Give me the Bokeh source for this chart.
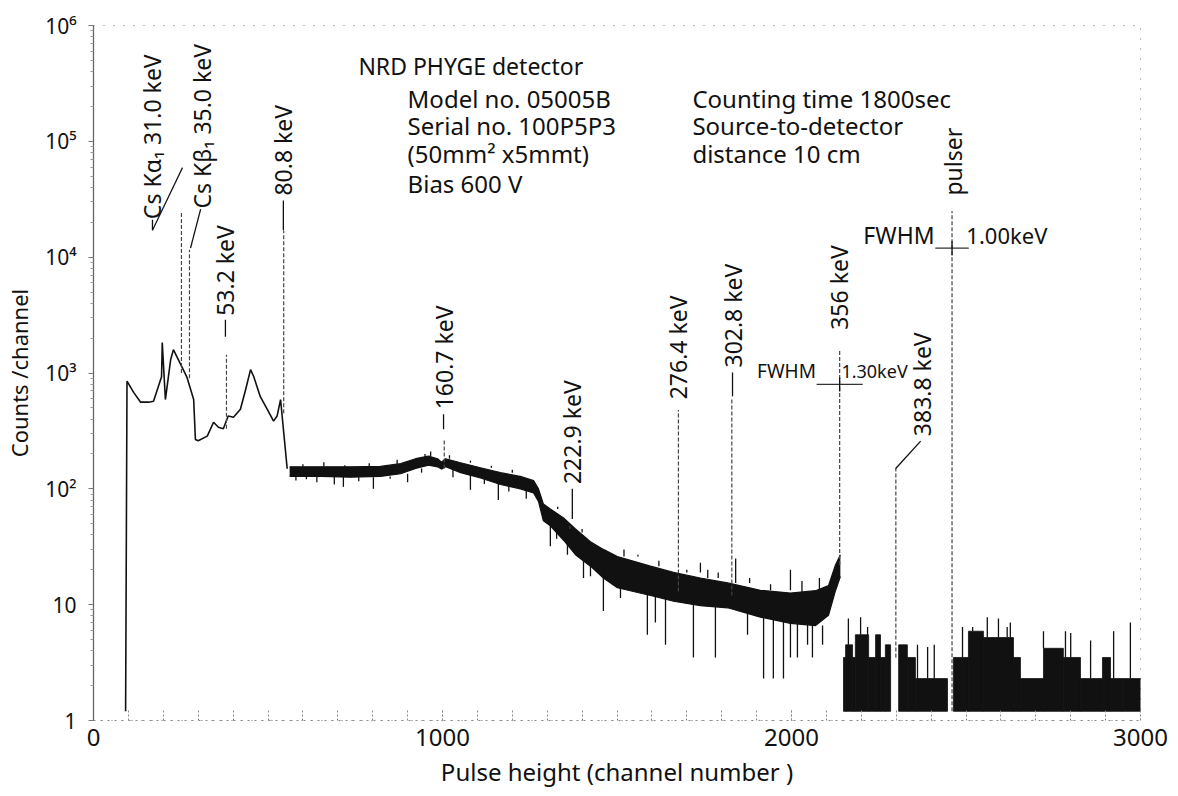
import math
from bokeh.plotting import figure
from bokeh.models import FixedTicker
from bokeh.core.properties import value
from bokeh.embed import file_html
from bokeh.resources import INLINE

FONT = "Noto Sans"
INK = "#111111"

# ---------------- data ----------------
# low-energy part of the spectrum (channel, counts/channel)
lowE_ch = [92, 96, 115, 135, 158, 172, 183, 195, 197, 206, 221, 229, 268, 287, 292, 300,
           326, 344, 358, 372, 386, 401, 421, 436, 450, 459, 478, 498, 516, 526, 536, 555]
lowE_cnt = [1.2, 850, 680, 560, 560, 570, 720, 930, 1830, 590, 1300, 1590, 915, 590, 267, 260,
            285, 376, 340, 330, 425, 415, 486, 721, 1070, 933, 625, 486, 384, 425, 590, 149]

# noisy continuum 560-2140: upper / lower edge of the band
band_ch = [562, 650, 736, 822, 880, 923, 960, 986, 997, 1009, 1052, 1109, 1166, 1223, 1261,
           1275, 1289, 1309, 1347, 1381, 1424, 1461, 1501, 1596, 1662, 1739, 1817, 1911,
           1997, 2069, 2106, 2126, 2140]
band_hi = [155, 155, 155, 156, 165, 182, 192, 182, 170, 182, 168, 152, 138, 128, 118,
           100, 74, 67, 56, 45, 35, 30, 26, 21.5, 19, 17, 15.4, 13.3,
           12.6, 13.2, 14.6, 22, 27]
band_lo = [128, 128, 126, 128, 135, 150, 160, 155, 148, 155, 138, 124, 109, 100, 92,
           78, 53, 48, 36, 27, 21.5, 17, 14, 12, 10.7, 9.8, 9.4, 7.8,
           6.9, 6.6, 8.1, 13.2, 17.5]

# single-channel dips below the band
dip_ch = [580, 610, 640, 690, 716, 760, 802, 850, 900, 940, 1030, 1080, 1120, 1160, 1190,
          1240, 1309, 1327, 1358, 1404, 1424, 1461, 1510, 1587, 1610, 1639,
          1719, 1782, 1874, 1920, 1948, 1977, 1997, 2017, 2046, 2060, 2089]
dip_cnt = [118, 121, 114, 109, 104, 116, 100, 122, 114, 138, 126, 98, 110, 80, 95,
           82, 32, 37, 27, 17, 17.6, 8.8, 11.4, 5.5, 7, 4.5,
           3.5, 3.5, 5.5, 2.3, 2.3, 2.3, 3.5, 3.5, 4.5, 3.5, 4.5]
# single-channel spikes above the band
spk_ch = [600, 660, 720, 790, 870, 950, 966, 1020, 1080, 1140, 1200, 1250, 1330, 1400, 1450,
          1520, 1560, 1620, 1700, 1739, 1760, 1790, 1840, 1880, 1940, 1997, 2030, 2080]
spk_cnt = [163, 170, 160, 166, 178, 200, 210, 195, 175, 158, 146, 128, 70, 42, 35,
           30, 27, 24, 20, 23, 20, 19, 25, 17, 15, 20, 16, 17]

# high-channel part (2150-3000): plateaus of the few-count band
low_start = [2149, 2155, 2175, 2183, 2221, 2241, 2255, 2269, 2307, 2332, 2355, 2464, 2507,
             2550, 2636, 2656, 2722, 2779, 2828, 2891, 2914, 2948]
low_end = [2155, 2175, 2183, 2221, 2241, 2255, 2269, 2284, 2332, 2355, 2447, 2507, 2550,
           2636, 2656, 2722, 2779, 2828, 2891, 2914, 2948, 3003]
low_top = [3.5, 4.5, 3.5, 5.5, 3.5, 5.5, 3.5, 4.5, 4.5, 3.5, 2.3, 3.5, 5.9,
           5.2, 3.5, 2.3, 4.2, 3.5, 2.3, 3.5, 2.3, 2.3]
low_floor = 1.2
hspk_ch = [2163, 2198, 2218, 2246, 2361, 2390, 2409, 2490, 2519, 2561, 2593, 2618, 2627,
           2722, 2785, 2800, 2857, 2923, 2971]
hspk_cnt = [7.6, 7.8, 6.4, 5.5, 4.5, 4.3, 4.5, 6.4, 6.4, 7.8, 7.6, 6.4, 7.0,
            5.9, 5.9, 5.7, 4.9, 5.9, 7.0]

# photo-peaks (channel, base, top) and their labels
peak_ch = [252, 275, 381, 545, 1005, 1365, 1676, 1829, 2138, 2299, 2460]
peak_base = [1000, 900, 330, 450, 150, 45, 13, 12, 22, 3.5, 1.2]
peak_top = [25000, 11600, 1440, 17000, 268, 48, 480, 600, 1600, 150, 25000]
peak_label = ["Cs K\u03b1\u2081 31.0 keV", "Cs K\u03b2\u2081 35.0 keV", "53.2 keV", "80.8 keV",
              "160.7 keV", "222.9 keV", "276.4 keV", "302.8 keV", "356 keV", "383.8 keV",
              "pulser"]

# FWHM markers
fw_peak = [2138, 2460]
fw_level = [797, 11950]
fw_half = [66, 48]
fw_value = ["1.30keV", "1.00keV"]

x_ticks = [0, 1000, 2000, 3000]
y_ticks = [1, 10, 100, 1000, 10000, 100000, 1000000]
y_tick_text = ["1", "10", "10\u00b2", "10\u00b3", "10\u2074", "10\u2075", "10\u2076"]

info_title = "NRD PHYGE detector"
info_left = ["Model no. 05005B", "Serial no. 100P5P3", "(50mm\u00b2 x5mmt)", "Bias 600 V"]
info_right = ["Counting time 1800sec", "Source-to-detector", "distance 10 cm"]

# ---------------- figure ----------------
p = figure(width=1172, height=790, x_range=(0, 3000), y_range=(1, 1e6),
           y_axis_type="log", output_backend="svg", toolbar_location=None,
           min_border_left=93, min_border_right=32, min_border_top=25, min_border_bottom=67)
p.xgrid.visible = False
p.ygrid.visible = False
p.outline_line_color = "#777777"
p.outline_line_dash = "1 9"
p.background_fill_color = "white"
p.border_fill_color = "white"

# axes
p.xaxis.ticker = FixedTicker(ticks=x_ticks, minor_ticks=list(range(100, 3000, 100)))
p.xaxis.axis_line_color = "#888888"
p.xaxis.axis_line_dash = "2 5"
p.xaxis.major_tick_in = 12
p.xaxis.major_tick_out = 0
p.xaxis.minor_tick_in = 12
p.xaxis.minor_tick_out = 0
p.xaxis.major_tick_line_color = "#888888"
p.xaxis.minor_tick_line_color = "#888888"
p.xaxis.major_tick_line_dash = "2 2"
p.xaxis.minor_tick_line_dash = "2 2"
p.xaxis.major_label_standoff = 8
p.xaxis.major_label_text_font = FONT
p.xaxis.major_label_text_font_size = "24px"
p.xaxis.major_label_text_color = INK
p.xaxis.axis_label = "Pulse height (channel number )"
p.xaxis.axis_label_standoff = 6
p.xaxis.axis_label_text_font = FONT
p.xaxis.axis_label_text_font_size = "24px"
p.xaxis.axis_label_text_font_style = "normal"
p.xaxis.axis_label_text_color = INK

minor_y = [m * 10 ** k for k in range(0, 6) for m in range(2, 10)]
p.yaxis.ticker = FixedTicker(ticks=y_ticks, minor_ticks=minor_y)
p.yaxis.major_label_overrides = {t: s for t, s in zip(y_ticks, y_tick_text)}
p.yaxis.axis_line_color = "#666666"
p.yaxis.axis_line_width = 1.3
p.yaxis.major_tick_out = 5
p.yaxis.major_tick_in = 0
p.yaxis.minor_tick_out = 3
p.yaxis.minor_tick_in = 0
p.yaxis.major_tick_line_color = "#777777"
p.yaxis.minor_tick_line_color = "#999999"
p.yaxis.major_label_standoff = 12
p.yaxis.major_label_text_font = FONT
p.yaxis.major_label_text_font_size = "21px"
p.yaxis.major_label_text_color = INK
p.yaxis.axis_label = "Counts /channel"
p.yaxis.axis_label_standoff = 8
p.yaxis.axis_label_text_font = FONT
p.yaxis.axis_label_text_font_size = "22px"
p.yaxis.axis_label_text_font_style = "normal"
p.yaxis.axis_label_text_color = INK


def band_value(c, edge):
    for i in range(len(band_ch) - 1):
        if band_ch[i] <= c <= band_ch[i + 1]:
            return edge[i]
    return edge[-1]


# ---------------- spectrum ----------------
p.line(lowE_ch, lowE_cnt, line_color=INK, line_width=1.6)
p.varea(x=band_ch, y1=band_lo, y2=band_hi, fill_color=INK)
p.line(band_ch, band_hi, line_color=INK, line_width=1.2)
p.line(band_ch, band_lo, line_color=INK, line_width=1.2)

p.segment(x0=dip_ch, y0=[band_value(c, band_lo) for c in dip_ch], x1=dip_ch, y1=dip_cnt,
          line_color=INK, line_width=1.3)
p.segment(x0=spk_ch, y0=[band_value(c, band_hi) for c in spk_ch], x1=spk_ch, y1=spk_cnt,
          line_color=INK, line_width=1.3)

p.quad(left=low_start, right=low_end, bottom=[low_floor] * len(low_start), top=low_top,
       fill_color=INK, line_color=INK, line_width=0.8)
hspk_from = []
for c in hspk_ch:
    base = low_floor
    for s, e, t in zip(low_start, low_end, low_top):
        if s <= c <= e:
            base = t
    hspk_from.append(base)
p.segment(x0=hspk_ch, y0=hspk_from, x1=hspk_ch, y1=hspk_cnt, line_color=INK, line_width=1.3)

# peaks (fast pen strokes, light and broken as in the plotter output)
p.segment(x0=peak_ch, y0=peak_base, x1=peak_ch, y1=peak_top, line_color="#444444",
          line_width=1.2, line_dash="4 2")

# ---------------- annotations ----------------
lab_dx = [-83, 37, -3, -1, -2, 7, 0, 2, -3, 76, 4]
lab_y = [21300, 26300, 3117, 34040, 486, 110, 593, 1115, 2360, 285, 34040]
rot_x = [c + d for c, d in zip(peak_ch, lab_dx)]
p.text(x=rot_x, y=lab_y, text=peak_label, angle=math.pi / 2,
       text_font=value(FONT), text_font_size="23px", text_color=INK,
       text_align="left", text_baseline="middle")

# leaders
lead_x0 = [169, 307, 378, 544, 1003, 1372, 1831, 2298]
lead_y0 = [21000, 26000, 2880, 30850, 440, 100, 1010, 149]
lead_x1 = [169, 278, 378, 544, 1003, 1372, 1831, 2370]
lead_y1 = [17060, 11950, 2057, 17060, 327, 55, 629, 258]
p.segment(x0=lead_x0, y0=lead_y0, x1=lead_x1, y1=lead_y1, line_color=INK, line_width=1.3)
# arrow line of the Cs K-alpha label
p.segment(x0=[169], y0=[17060], x1=[255], y1=[59300], line_color=INK, line_width=1.2)

# FWHM bars
fw_x0 = [c - h for c, h in zip(fw_peak, fw_half)]
fw_x1 = [c + h for c, h in zip(fw_peak, fw_half)]
p.segment(x0=fw_x0, y0=fw_level, x1=fw_x1, y1=fw_level, line_color="#333333", line_width=1.3)
p.segment(x0=fw_peak, y0=[v / 1.15 for v in fw_level], x1=fw_peak, y1=[v * 1.15 for v in fw_level],
          line_color=INK, line_width=1.3)
p.text(x=[x - 2 for x in fw_x0], y=[v * 1.3 for v in fw_level], text=["FWHM", "FWHM"],
       text_font=value(FONT), text_font_size=["19px", "23px"], text_color=INK,
       text_align="right", text_baseline="middle")
p.text(x=[fw_peak[0] + 5, fw_peak[1] + 41], y=[v * 1.3 for v in fw_level], text=fw_value,
       text_font=value(FONT), text_font_size=["18px", "22px"], text_color=INK,
       text_align="left", text_baseline="middle")

# info block
p.text(x=[759], y=[444600], text=[info_title], text_font=value(FONT),
       text_font_size="23px", text_color=INK, text_align="left", text_baseline="middle")
p.text(x=[900] * 4, y=[236000, 136000, 78100, 43000], text=info_left, text_font=value(FONT),
       text_font_size="24px", text_color=INK, text_align="left", text_baseline="middle")
p.text(x=[1716] * 3, y=[236000, 136000, 78100], text=info_right, text_font=value(FONT),
       text_font_size="24px", text_color=INK, text_align="left", text_baseline="middle")

open("out.html", "w").write(file_html(p, INLINE))
